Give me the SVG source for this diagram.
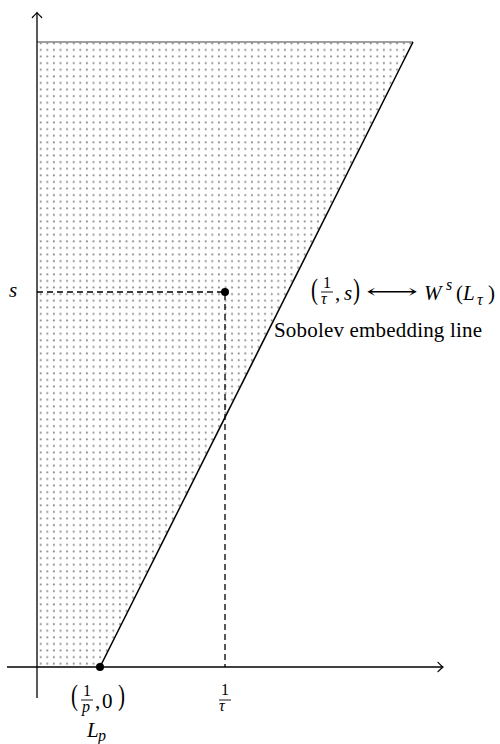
<svg xmlns="http://www.w3.org/2000/svg" width="500" height="744" viewBox="0 0 500 744">
<style>
.ax{stroke:#000;stroke-width:1.3;fill:none}
.ah{stroke:#000;stroke-width:1.2;fill:none;stroke-linecap:round}
.dash{stroke:#000;stroke-width:1.3;stroke-dasharray:6 4;fill:none}
.t{font-family:"Liberation Serif","Times New Roman",serif;font-size:21px;fill:#000}
.i{font-style:italic}
.f{font-size:16px}
.bar{stroke:#000;stroke-width:0.9}
</style>
<defs>
<pattern id="dots" patternUnits="userSpaceOnUse" x="37" y="42" width="6.6" height="6.6">
<circle cx="3.7" cy="1.3" r="1.05" fill="#8c8c8c"/>
</pattern>
</defs>
<g id="region">
<polygon points="37,42 413,42 100,667 37,667" fill="url(#dots)"/>
<line x1="37" y1="42" x2="413" y2="42" stroke="#808080" stroke-width="1.5"/>
</g>
<g id="connectors">
<line class="ax" x1="37" y1="698" x2="37" y2="13"/>
<path class="ah" d="M32.3,17.5 Q35.5,14.5 37,12.5 Q38.5,14.5 41.7,17.5"/>
<line class="ax" x1="7" y1="667" x2="442" y2="667"/>
<path class="ah" d="M438,662.3 Q441,665.5 443,667 Q441,668.5 438,671.7"/>
<line x1="100" y1="667" x2="413" y2="42" stroke="#000" stroke-width="1.5"/>
<polyline class="dash" points="37,292 225,292 225,667"/>
</g>
<g id="point-p">
<circle cx="100" cy="667" r="4"/>
<text class="t" transform="translate(71,705) scale(1,1.45)">(</text>
<text class="t f" x="83" y="696">1</text>
<line class="bar" x1="81" y1="700" x2="93" y2="700"/>
<text class="t f i" x="82" y="712">p</text>
<text class="t" x="95" y="708">,</text>
<text class="t" x="102" y="708">0</text>
<text class="t" transform="translate(118,705) scale(1,1.45)">)</text>
<text class="t i" x="87" y="737">L</text>
<text class="t f i" x="98" y="741">p</text>
</g>
<g id="point-tau">
<circle cx="225" cy="292" r="4"/>
<text class="t" transform="translate(311,299) scale(1,1.45)">(</text>
<text class="t f" x="323" y="288">1</text>
<line class="bar" x1="321" y1="292" x2="333" y2="292"/>
<text class="t f i" x="321" y="304">τ</text>
<text class="t" x="335" y="300">,</text>
<text class="t i" x="344" y="300">s</text>
<text class="t" transform="translate(353,299) scale(1,1.45)">)</text>
<text class="t" x="366" y="298" textLength="52" lengthAdjust="spacingAndGlyphs" style="font-family:'DejaVu Serif','Liberation Serif',serif;font-size:20px">⟷</text>
<text class="t i" x="424" y="300">W</text>
<text class="t f i" x="446" y="290">s</text>
<text class="t" x="456" y="300">(</text>
<text class="t i" x="463" y="300">L</text>
<text class="t f i" x="477" y="305">τ</text>
<text class="t" x="488" y="300">)</text>
</g>
<g id="labels">
<text class="t i" x="9" y="297">s</text>
<text class="t" x="274" y="337" textLength="208" lengthAdjust="spacing">Sobolev embedding line</text>
<text class="t f" x="221" y="695">1</text>
<line class="bar" x1="219" y1="700" x2="231" y2="700"/>
<text class="t f i" x="219" y="711">τ</text>
</g>
</svg>
